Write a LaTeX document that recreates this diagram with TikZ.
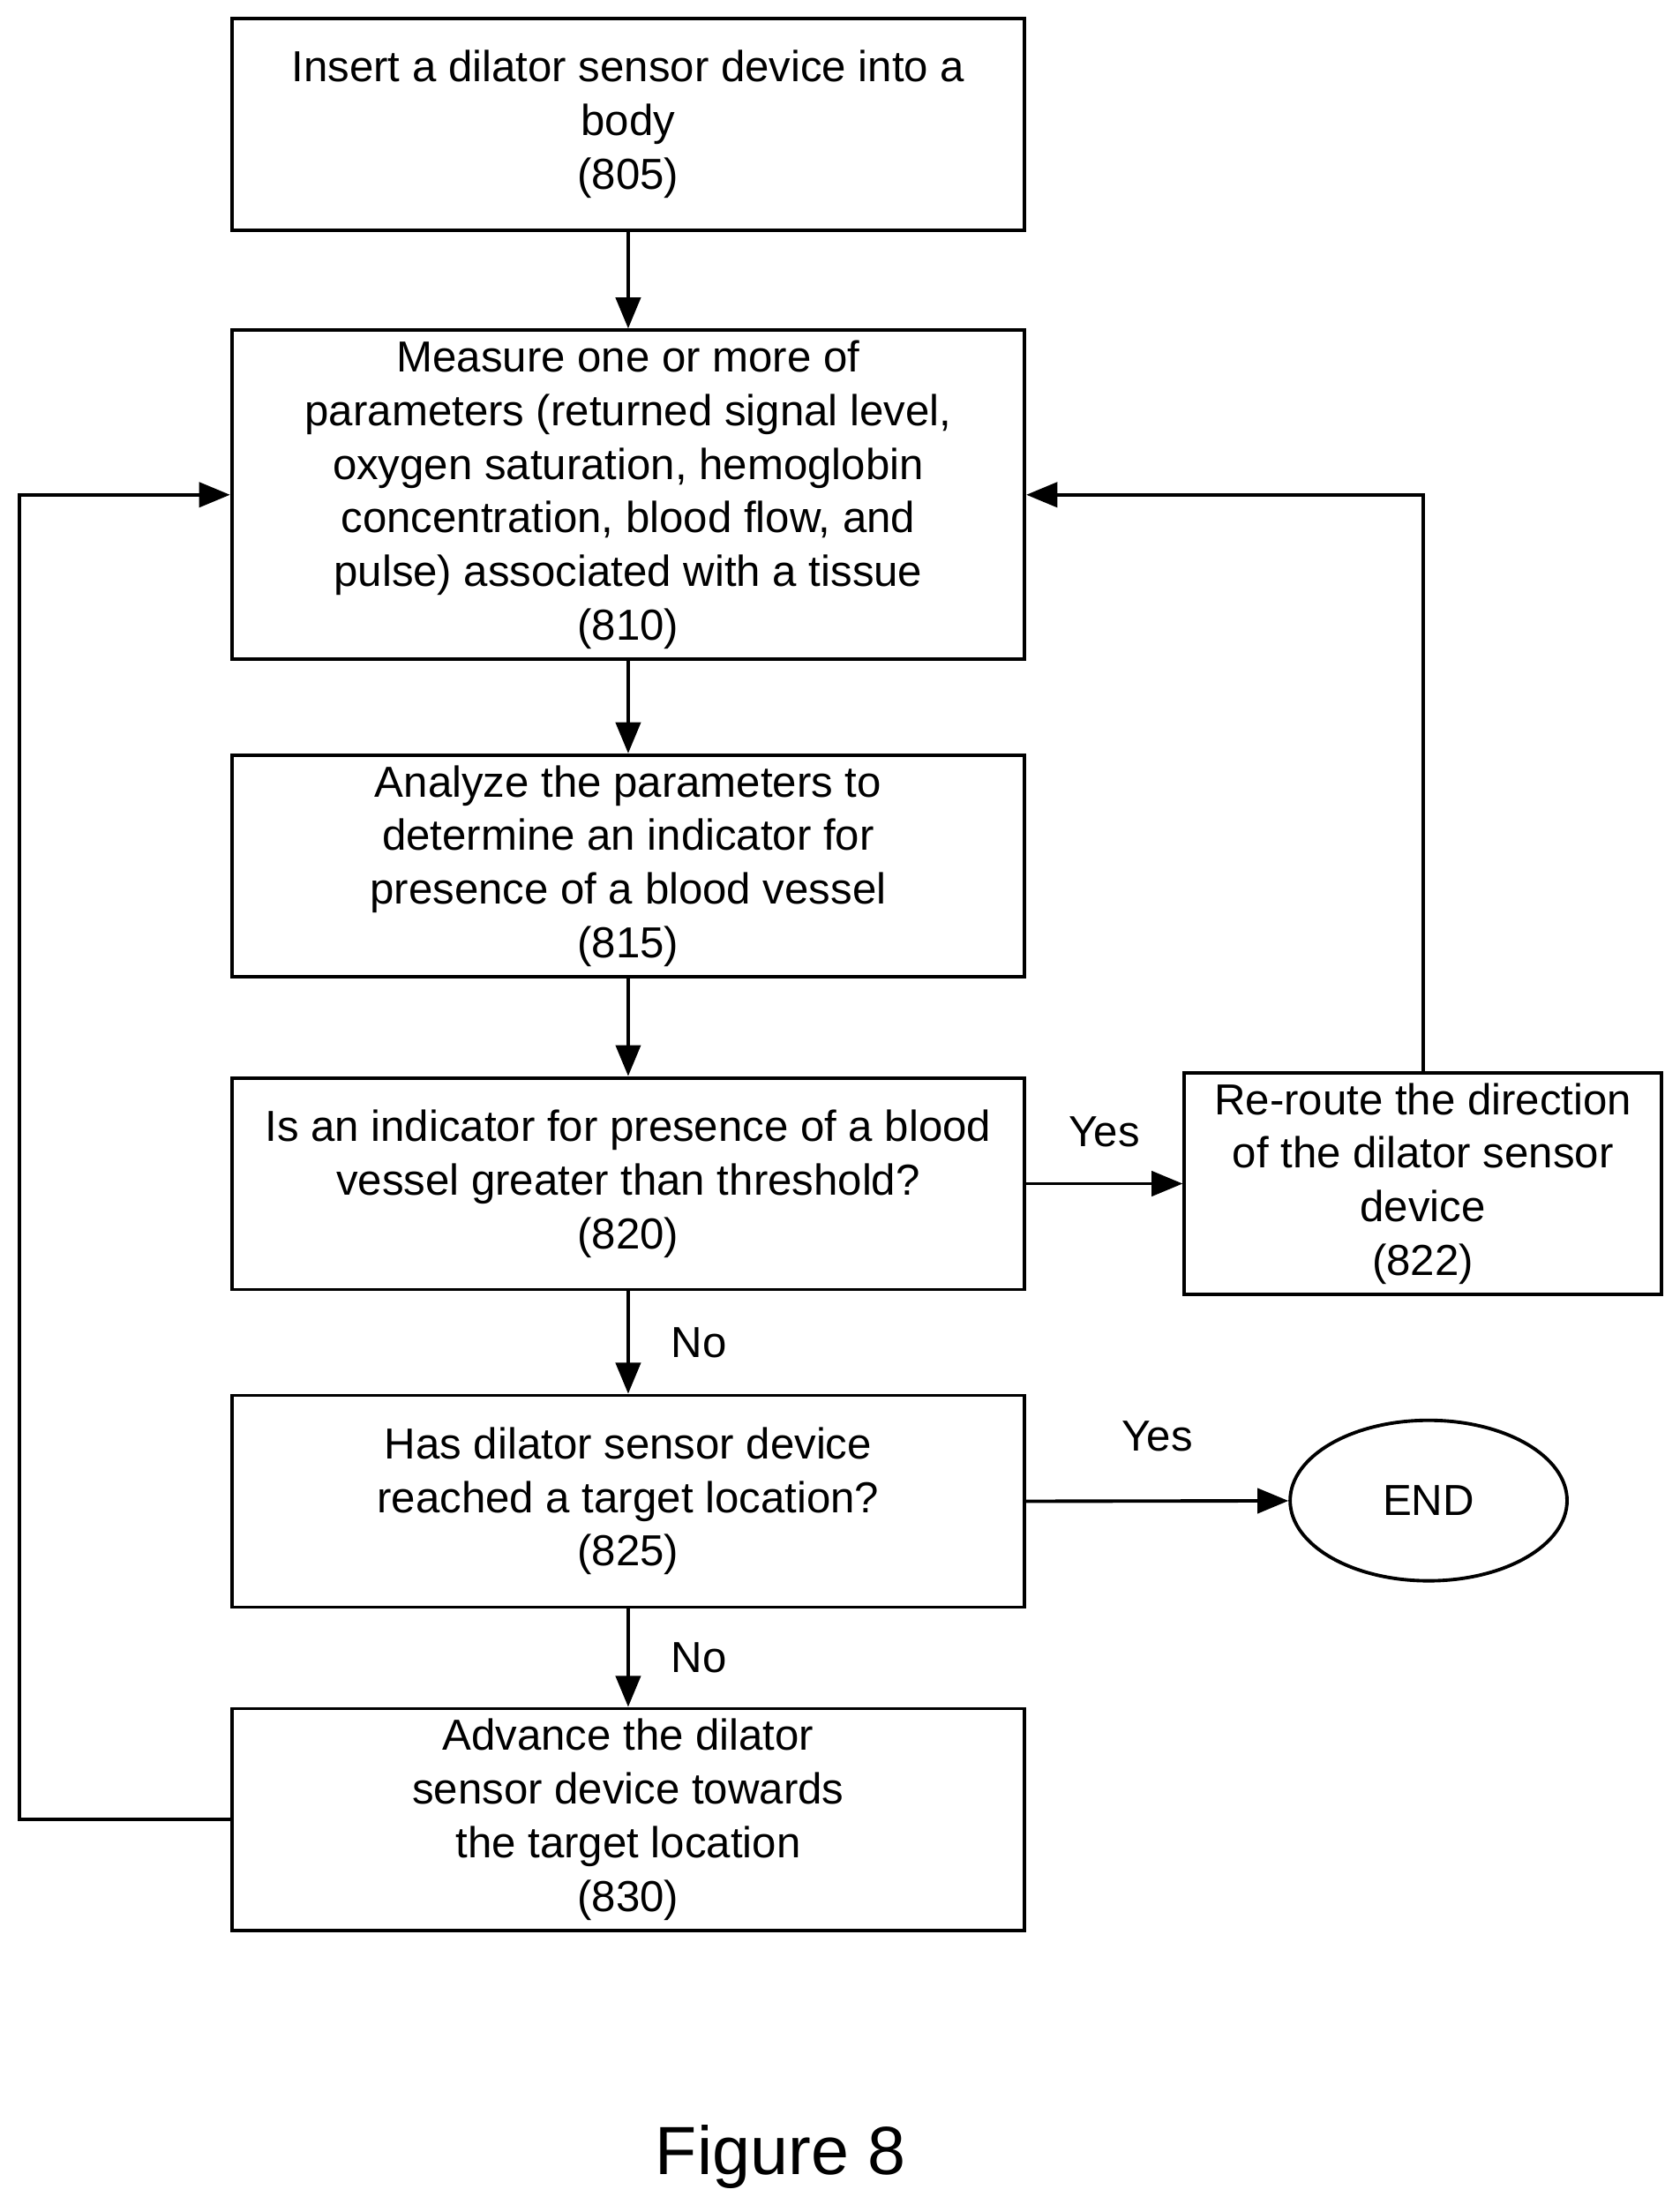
\documentclass[tikz,border=0pt]{standalone}
\usepackage{fontspec}
\setmainfont{Liberation Sans}
\usetikzlibrary{positioning,calc,arrows.meta,shapes}

\tikzset{
    stage/.style={draw, line width=1.1pt, minimum width=8.99cm, minimum height=2.4cm,
        align=center, font=\fontsize{14}{17.3}\selectfont},
    flow/.style={-{Triangle[length=10pt,width=8pt]}, line width=1.1pt},
    lbl/.style={font=\fontsize{14}{17}\selectfont}
}

\begin{document}
\begin{tikzpicture}[x=0.016cm, y=-0.016cm]
    \useasboundingbox (0,0) rectangle (1190,1567);

    \node[stage] (insert) at (445,88) {Insert a dilator sensor device into a\\body\\(805)};
    \node[stage, minimum height=3.6cm] (measure) at (445,350.5) {Measure one or more of\\parameters (returned signal level,\\oxygen saturation, hemoglobin\\concentration, blood flow, and\\pulse) associated with a tissue\\(810)};
    \node[stage] (analyze) at (445,613.5) {Analyze the parameters to\\determine an indicator for\\presence of a blood vessel\\(815)};
    \node[stage] (check) at (445,838.5) {Is an indicator for presence of a blood\\vessel greater than threshold?\\(820)};
    \node[stage, minimum width=5.41cm] (reroute) at (1008,838.5) {Re-route the direction\\of the dilator sensor\\device\\(822)};
    \node[stage] (reached) at (445,1063.5) {Has dilator sensor device\\reached a target location?\\(825)};
    \node[draw, line width=1.1pt, ellipse, minimum width=3.14cm, minimum height=1.82cm,
        font=\fontsize{14}{17}\selectfont] (finish) at (1012,1063) {END};
    \node[stage] (advance) at (445,1289) {Advance the dilator\\sensor device towards\\the target location\\(830)};

    \node[font=\fontsize{22}{26}\selectfont] (caption) at (553,1528) {Figure 8};

    % Flow
    \draw[flow] (insert) -- (measure);
    \draw[flow] (measure) -- (analyze);
    \draw[flow] (analyze) -- (check);
    \draw[flow] (check) -- node[lbl, right=10pt] {No} (reached);
    \draw[flow] (reached) -- node[lbl, right=10pt] {No} (advance);
    \draw[flow] (check) -- node[lbl, above=8pt] {Yes} (reroute);
    \draw[flow] (reached.east) -- node[lbl, above=12pt] {Yes} (finish);
    \draw[flow] (reroute.north) |- (measure.east);
    \draw[flow] (advance.west) -- (14,1289) |- (measure.west);
\end{tikzpicture}
\end{document}
